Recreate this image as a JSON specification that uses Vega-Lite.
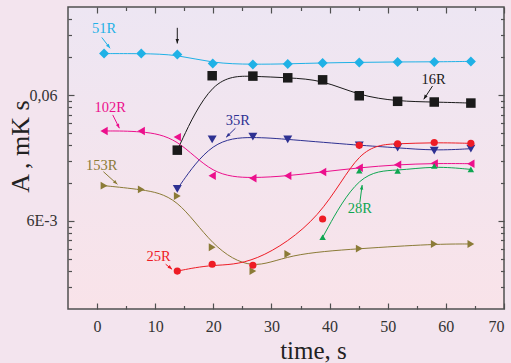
{
  "$schema": "https://vega.github.io/schema/vega-lite/v6.json",
  "width": 436,
  "height": 302,
  "autosize": {"type": "none"},
  "padding": {"left": 68, "top": 7, "right": 7, "bottom": 54},
  "background": "#f3e4ee",
  "config": {
    "view": {"stroke": "#505050", "strokeWidth": 1.5, "fill": {"gradient": "linear", "x1": 0, "y1": 0, "x2": 0, "y2": 1, "stops": [{"offset": 0, "color": "#ede6f3"}, {"offset": 1, "color": "#f9e3e9"}]}},
    "axis": {"domain": false, "grid": false, "tickColor": "#505050", "tickWidth": 1.2, "labelFont": "Times New Roman", "labelFontSize": 16, "labelColor": "#333333", "titleFont": "Times New Roman", "titleFontWeight": "normal", "titleColor": "#222222"}
  },
  "datasets": {
    "series": [
      {"s": "51R", "t": 1.2, "a": 0.128}, {"s": "51R", "t": 7.6, "a": 0.128}, {"s": "51R", "t": 13.8, "a": 0.126}, {"s": "51R", "t": 19.9, "a": 0.107}, {"s": "51R", "t": 26.8, "a": 0.105}, {"s": "51R", "t": 32.8, "a": 0.106}, {"s": "51R", "t": 38.8, "a": 0.108}, {"s": "51R", "t": 45.1, "a": 0.109}, {"s": "51R", "t": 51.7, "a": 0.110}, {"s": "51R", "t": 58, "a": 0.110}, {"s": "51R", "t": 64.3, "a": 0.111},
      {"s": "16R", "t": 13.8, "a": 0.0219}, {"s": "16R", "t": 19.8, "a": 0.0854}, {"s": "16R", "t": 26.8, "a": 0.0848}, {"s": "16R", "t": 32.8, "a": 0.0822}, {"s": "16R", "t": 38.8, "a": 0.0792}, {"s": "16R", "t": 45.1, "a": 0.0592}, {"s": "16R", "t": 51.7, "a": 0.0535}, {"s": "16R", "t": 58, "a": 0.0528}, {"s": "16R", "t": 64.3, "a": 0.0518},
      {"s": "35R", "t": 13.8, "a": 0.01077}, {"s": "35R", "t": 19.8, "a": 0.0267}, {"s": "35R", "t": 26.8, "a": 0.0280}, {"s": "35R", "t": 32.8, "a": 0.0267}, {"s": "35R", "t": 45.1, "a": 0.0239}, {"s": "35R", "t": 51.7, "a": 0.0229}, {"s": "35R", "t": 58, "a": 0.0217}, {"s": "35R", "t": 64.3, "a": 0.0225},
      {"s": "102R", "t": 1.2, "a": 0.0311}, {"s": "102R", "t": 7.6, "a": 0.0311}, {"s": "102R", "t": 13.8, "a": 0.0278}, {"s": "102R", "t": 19.8, "a": 0.0137}, {"s": "102R", "t": 26.8, "a": 0.0131}, {"s": "102R", "t": 32.8, "a": 0.0137}, {"s": "102R", "t": 38.8, "a": 0.0147}, {"s": "102R", "t": 45.1, "a": 0.0159}, {"s": "102R", "t": 51.7, "a": 0.0168}, {"s": "102R", "t": 58, "a": 0.0172}, {"s": "102R", "t": 64.3, "a": 0.0171},
      {"s": "153R", "t": 1.2, "a": 0.01144}, {"s": "153R", "t": 7.6, "a": 0.01069}, {"s": "153R", "t": 13.8, "a": 0.00947}, {"s": "153R", "t": 19.8, "a": 0.00371}, {"s": "153R", "t": 26.8, "a": 0.0024}, {"s": "153R", "t": 32.8, "a": 0.00328}, {"s": "153R", "t": 45.1, "a": 0.00362}, {"s": "153R", "t": 58, "a": 0.00394}, {"s": "153R", "t": 64.3, "a": 0.00394},
      {"s": "25R", "t": 13.8, "a": 0.0024}, {"s": "25R", "t": 19.8, "a": 0.00272}, {"s": "25R", "t": 26.8, "a": 0.00267}, {"s": "25R", "t": 38.8, "a": 0.00622}, {"s": "25R", "t": 45.1, "a": 0.0239}, {"s": "25R", "t": 51.7, "a": 0.0246}, {"s": "25R", "t": 58, "a": 0.0252}, {"s": "25R", "t": 64.3, "a": 0.0248},
      {"s": "28R", "t": 38.8, "a": 0.00445}, {"s": "28R", "t": 45.1, "a": 0.01504}, {"s": "28R", "t": 51.7, "a": 0.0150}, {"s": "28R", "t": 58, "a": 0.0164}, {"s": "28R", "t": 64.3, "a": 0.0154}
    ],
    "labels": [
      {"s": "51R", "t": 1.2, "a": 0.199},
      {"s": "16R", "t": 57.9, "a": 0.0789},
      {"s": "102R", "t": 2.24, "a": 0.047},
      {"s": "35R", "t": 24.2, "a": 0.0373},
      {"s": "153R", "t": 0.81, "a": 0.0165},
      {"s": "25R", "t": 10.6, "a": 0.003127},
      {"s": "28R", "t": 45.2, "a": 0.00743}
    ],
    "arrows": [
      {"s": "51R", "t": 0.81, "a": 0.172, "t2": 2.24, "a2": 0.141},
      {"s": "mark", "t": 13.8, "a": 0.205, "t2": 13.8, "a2": 0.154},
      {"s": "16R", "t": 57.7, "a": 0.0707, "t2": 56.2, "a2": 0.0555},
      {"s": "102R", "t": 2.7, "a": 0.0417, "t2": 3.84, "a2": 0.0327},
      {"s": "35R", "t": 23.8, "a": 0.0327, "t2": 22.2, "a2": 0.0277},
      {"s": "153R", "t": 1.09, "a": 0.01477, "t2": 3.5, "a2": 0.01173},
      {"s": "25R", "t": 11.8, "a": 0.00272, "t2": 12.9, "a2": 0.00248},
      {"s": "28R", "t": 45.2, "a": 0.00838, "t2": 45.6, "a2": 0.01158}
    ]
  },
  "resolve": {"axis": {"x": "independent", "y": "independent"}},
  "layer": [
    {
      "data": {"name": "series"},
      "mark": {"type": "line", "interpolate": "basis", "strokeWidth": 1},
      "encoding": {
        "x": {"field": "t", "type": "quantitative", "scale": {"domain": [-5, 70], "nice": false, "zero": false},
          "axis": {"orient": "bottom", "values": [0, 10, 20, 30, 40, 50, 60, 70], "tickSize": -6, "labelPadding": 15, "title": "time, s", "titleFontSize": 25, "titleX": 245, "titleY": 49, "titleBaseline": "alphabetic", "titleAnchor": "middle"}},
        "y": {"field": "a", "type": "quantitative", "scale": {"type": "log", "domain": [0.0012, 0.3], "nice": false},
          "axis": {"orient": "left", "values": [0.006, 0.06], "labelExpr": "datum.value > 0.01 ? '0,06' : '6E-3'", "tickSize": -6, "labelPadding": 17, "title": "A , mK s", "titleFontSize": 26, "titleX": -40, "titleY": 139, "titleAngle": -90, "titleAlign": "center", "titleBaseline": "alphabetic"}},
        "color": {"field": "s", "type": "nominal", "legend": null,
          "scale": {"domain": ["51R", "16R", "35R", "102R", "153R", "25R", "28R", "mark"], "range": ["#1fb1e6", "#1a1a1a", "#2e3192", "#ec0f8c", "#8b7b37", "#ee1c25", "#0fa651", "#1a1a1a"]}}
      }
    },
    {
      "data": {"name": "series"},
      "mark": {"type": "point", "filled": true, "opacity": 1},
      "encoding": {
        "x": {"field": "t", "type": "quantitative", "axis": {"orient": "bottom", "values": [5, 15, 25, 35, 45, 55, 65], "tickSize": -3.5, "labels": false, "title": null}},
        "y": {"field": "a", "type": "quantitative", "axis": {"orient": "left", "values": [0.0018, 0.0024, 0.003, 0.0036, 0.0042, 0.0048, 0.0054, 0.012, 0.018, 0.024, 0.03, 0.036, 0.042, 0.048, 0.054, 0.12, 0.18, 0.24], "tickSize": -3.5, "labels": false, "title": null}},
        "color": {"field": "s", "type": "nominal", "legend": null},
        "shape": {"field": "s", "type": "nominal", "legend": null,
          "scale": {"domain": ["51R", "16R", "35R", "102R", "153R", "25R", "28R"], "range": ["diamond", "square", "triangle-down", "triangle-left", "triangle-right", "circle", "triangle-up"]}},
        "size": {"field": "s", "type": "nominal", "legend": null,
          "scale": {"domain": ["51R", "16R", "35R", "102R", "153R", "25R", "28R"], "range": [100, 42, 80, 80, 80, 48, 80]}}
      }
    },
    {
      "data": {"name": "labels"},
      "mark": {"type": "text", "font": "Times New Roman", "fontSize": 14.5, "align": "center", "baseline": "middle"},
      "encoding": {
        "x": {"field": "t", "type": "quantitative", "axis": {"orient": "top", "values": [0, 10, 20, 30, 40, 50, 60, 70], "tickSize": -6, "labels": false, "title": null}},
        "y": {"field": "a", "type": "quantitative", "axis": {"orient": "right", "values": [0.006, 0.06], "tickSize": -6, "labels": false, "title": null}},
        "text": {"field": "s"},
        "color": {"field": "s", "type": "nominal", "legend": null}
      }
    },
    {
      "data": {"name": "arrows"},
      "mark": {"type": "rule", "strokeWidth": 1},
      "encoding": {
        "x": {"field": "t", "type": "quantitative", "axis": {"orient": "top", "values": [5, 15, 25, 35, 45, 55, 65], "tickSize": -3.5, "labels": false, "title": null}},
        "y": {"field": "a", "type": "quantitative", "axis": {"orient": "right", "values": [0.0018, 0.0024, 0.003, 0.0036, 0.0042, 0.0048, 0.0054, 0.012, 0.018, 0.024, 0.03, 0.036, 0.042, 0.048, 0.054, 0.12, 0.18, 0.24], "tickSize": -3.5, "labels": false, "title": null}},
        "x2": {"field": "t2"},
        "y2": {"field": "a2"},
        "color": {"field": "s", "type": "nominal", "legend": null}
      }
    },
    {"data": {"name": "arrows"}, "transform": [{"filter": "datum.s == '51R'"}], "mark": {"type": "point", "shape": "M0,0L-0.7,1.8L0.7,1.8Z", "filled": true, "opacity": 1, "size": 25, "angle": 143},
      "encoding": {"x": {"field": "t2", "type": "quantitative", "axis": null}, "y": {"field": "a2", "type": "quantitative", "axis": null}, "color": {"field": "s", "type": "nominal", "legend": null}}},
    {"data": {"name": "arrows"}, "transform": [{"filter": "datum.s == 'mark'"}], "mark": {"type": "point", "shape": "M0,0L-0.7,1.8L0.7,1.8Z", "filled": true, "opacity": 1, "size": 25, "angle": 180},
      "encoding": {"x": {"field": "t2", "type": "quantitative", "axis": null}, "y": {"field": "a2", "type": "quantitative", "axis": null}, "color": {"field": "s", "type": "nominal", "legend": null}}},
    {"data": {"name": "arrows"}, "transform": [{"filter": "datum.s == '16R'"}], "mark": {"type": "point", "shape": "M0,0L-0.7,1.8L0.7,1.8Z", "filled": true, "opacity": 1, "size": 25, "angle": 212},
      "encoding": {"x": {"field": "t2", "type": "quantitative", "axis": null}, "y": {"field": "a2", "type": "quantitative", "axis": null}, "color": {"field": "s", "type": "nominal", "legend": null}}},
    {"data": {"name": "arrows"}, "transform": [{"filter": "datum.s == '102R'"}], "mark": {"type": "point", "shape": "M0,0L-0.7,1.8L0.7,1.8Z", "filled": true, "opacity": 1, "size": 25, "angle": 154},
      "encoding": {"x": {"field": "t2", "type": "quantitative", "axis": null}, "y": {"field": "a2", "type": "quantitative", "axis": null}, "color": {"field": "s", "type": "nominal", "legend": null}}},
    {"data": {"name": "arrows"}, "transform": [{"filter": "datum.s == '35R'"}], "mark": {"type": "point", "shape": "M0,0L-0.7,1.8L0.7,1.8Z", "filled": true, "opacity": 1, "size": 25, "angle": 225},
      "encoding": {"x": {"field": "t2", "type": "quantitative", "axis": null}, "y": {"field": "a2", "type": "quantitative", "axis": null}, "color": {"field": "s", "type": "nominal", "legend": null}}},
    {"data": {"name": "arrows"}, "transform": [{"filter": "datum.s == '153R'"}], "mark": {"type": "point", "shape": "M0,0L-0.7,1.8L0.7,1.8Z", "filled": true, "opacity": 1, "size": 25, "angle": 132},
      "encoding": {"x": {"field": "t2", "type": "quantitative", "axis": null}, "y": {"field": "a2", "type": "quantitative", "axis": null}, "color": {"field": "s", "type": "nominal", "legend": null}}},
    {"data": {"name": "arrows"}, "transform": [{"filter": "datum.s == '25R'"}], "mark": {"type": "point", "shape": "M0,0L-0.7,1.8L0.7,1.8Z", "filled": true, "opacity": 1, "size": 25, "angle": 130},
      "encoding": {"x": {"field": "t2", "type": "quantitative", "axis": null}, "y": {"field": "a2", "type": "quantitative", "axis": null}, "color": {"field": "s", "type": "nominal", "legend": null}}},
    {"data": {"name": "arrows"}, "transform": [{"filter": "datum.s == '28R'"}], "mark": {"type": "point", "shape": "M0,0L-0.7,1.8L0.7,1.8Z", "filled": true, "opacity": 1, "size": 25, "angle": 8},
      "encoding": {"x": {"field": "t2", "type": "quantitative", "axis": null}, "y": {"field": "a2", "type": "quantitative", "axis": null}, "color": {"field": "s", "type": "nominal", "legend": null}}}
  ]
}
